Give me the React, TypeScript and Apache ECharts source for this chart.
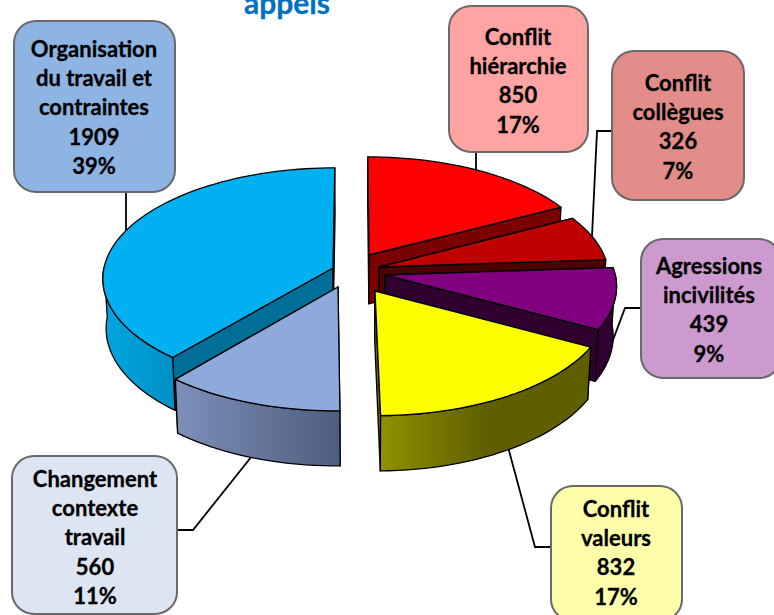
import React, { useEffect, useRef } from "react";
import * as echarts from "echarts";

const categories = [
  ["Organisation", "du travail et", "contraintes"],
  ["Conflit", "hiérarchie"],
  ["Conflit", "collègues"],
  ["Agressions", "incivilités"],
  ["Conflit", "valeurs"],
  ["Changement", "contexte", "travail"],
];
const values = [1909, 850, 326, 439, 832, 560];
const percents = ["39%", "17%", "7%", "9%", "17%", "11%"];
const title = "appels";

const topColors = ["#00B0F0", "#FF0000", "#C00000", "#800080", "#FFFF00", "#8EA9DB"];
const sideColors: any[] = [
  ["#00A6E2", "#0090C4"],
  ["#7A0000", "#7A0000"],
  ["#4D0000", "#4D0000"],
  ["#300030", "#300030"],
  ["#909000", "#5F5F00"],
  ["#7D90BA", "#4E5D7E"],
];
const radialColors = ["#006F98", "#7A0000", "#4D0000", "#300030", "#6B6B00", "#5A6A8C"];
const apexes = [
  [333, 268],
  [369, 255],
  [379, 267],
  [385, 275],
  [375, 291],
  [338, 287],
];
const boxes = [
  { x: 14, y: 21, w: 161, h: 171, fill: "#8DB4E2", cx: 94, first: 48 },
  { x: 449, y: 6, w: 139, h: 146, fill: "#FFA3A3", cx: 518, first: 36 },
  { x: 612, y: 51, w: 132, h: 149, fill: "#E28D89", cx: 678, first: 82 },
  { x: 641, y: 239, w: 140, h: 139, fill: "#CC9ACF", cx: 709, first: 265 },
  { x: 551, y: 486, w: 131, h: 135, fill: "#FFFFAB", cx: 616, first: 508 },
  { x: 12, y: 456, w: 165, h: 158, fill: "#DDE4F2", cx: 95, first: 478 },
];
const leaders = [
  [[126, 192], [126, 232]],
  [[476, 152], [476, 175]],
  [[612, 131], [597, 131], [592, 236]],
  [[641, 308], [625, 308], [610, 348]],
  [[551, 547], [535, 547], [508, 447]],
  [[177, 530], [193, 530], [252, 456]],
];

const X0 = 355, Y0 = 273, RX = 230, RY = 110, K = 0.09, DEPTH = 49.5, SHRINK = 0.987;
const FONT = "Lato, Carlito, 'Open Sans', sans-serif";
const LINE_H = 29.4;
const total = values.reduce((a, b) => a + b, 0);

const persp = (q: number) => 1 / (1 - K * q);
const project = (p: number, q: number) => [X0 + RX * p * persp(q), Y0 + RY * q * persp(q)];
const lower = (pt: number[], q: number) => [X0 + (pt[0] - X0) * SHRINK, pt[1] + DEPTH * persp(q)];
const unproject = (x: number, y: number) => {
  const d = y - Y0;
  const q = d / (RY + K * d);
  return [((x - X0) * (1 - K * q)) / RX, q];
};

function renderSlice(params: any, api: any) {
  const i = params.dataIndex;
  const before = values.slice(0, i).reduce((a, b) => a + b, 0);
  const a0 = ((before - values[0]) / total) * Math.PI * 2;
  const a1 = a0 + (api.value(0) / total) * Math.PI * 2;
  const [ap, aq] = unproject(apexes[i][0], apexes[i][1]);
  const apexTop = project(ap, aq);
  const apexBot = lower(apexTop, aq);
  const steps = Math.max(6, Math.round(((a1 - a0) * 180) / Math.PI / 2));
  const rimTop: number[][] = [];
  const rimBot: number[][] = [];
  const frontTop: number[][] = [];
  const frontBot: number[][] = [];
  for (let s = 0; s <= steps; s++) {
    const t = a0 + ((a1 - a0) * s) / steps;
    const q = aq - Math.cos(t);
    const pt = project(ap + Math.sin(t), q);
    const low = lower(pt, q);
    rimTop.push(pt);
    rimBot.push(low);
    if (Math.cos(t) <= 0.02) {
      frontTop.push(pt);
      frontBot.push(low);
    }
  }
  const line = { stroke: "#000", lineWidth: 1.3, lineJoin: "round" };
  const poly = (points: number[][], fill: any) => ({
    type: "polygon",
    shape: { points },
    style: { fill, ...line },
    silent: true,
  });
  const radial = radialColors[i];
  const grad = {
    type: "linear", x: 0, y: 0, x2: 1, y2: 0,
    colorStops: [
      { offset: 0, color: sideColors[i][0] },
      { offset: i === 4 ? 0.5 : 1, color: sideColors[i][1] },
      { offset: 1, color: sideColors[i][1] },
    ],
  };
  const children: any[] = [
    poly([apexTop, rimTop[0], rimBot[0], apexBot], radial),
    poly([apexTop, rimTop[steps], rimBot[steps], apexBot], radial),
  ];
  if (frontTop.length > 1) children.push(poly([...frontTop, ...frontBot.slice().reverse()], grad));
  children.push(poly([apexTop, ...rimTop], topColors[i]));
  return { type: "group", children };
}

export default function App() {
  const ref = useRef<HTMLDivElement>(null);
  useEffect(() => {
    const chart = echarts.init(ref.current!, undefined, { renderer: "svg" });
    const elements: any[] = [];
    leaders.forEach((pts) => {
      elements.push({
        type: "polyline", shape: { points: pts }, z: 1, silent: true,
        style: { stroke: "#000", lineWidth: 1.8, fill: "none" },
      });
    });
    boxes.forEach((b, i) => {
      elements.push({
        type: "rect", z: 5, silent: true,
        shape: { x: b.x, y: b.y, width: b.w, height: b.h, r: 22 },
        style: { fill: b.fill, stroke: "#6A6A6A", lineWidth: 2 },
      });
      const lines = [...categories[i], String(values[i]), percents[i]];
      lines.forEach((t, j) => {
        elements.push({
          type: "text", z: 6, silent: true, x: b.cx, y: b.first + j * LINE_H,
          style: {
            text: t, fill: "#000", stroke: "#000", lineWidth: 0.3,
            font: `bold 22px ${FONT}`, align: "center", verticalAlign: "middle",
          },
        });
      });
    });
    elements.push({
      type: "text", z: 6, silent: true, x: 287, y: 2,
      style: {
        text: title, fill: "#0070C0", stroke: "#0070C0", lineWidth: 0.3,
        font: `bold 30px ${FONT}`, align: "center", verticalAlign: "middle",
      },
    });
    chart.setOption({
      animation: false,
      backgroundColor: "#fff",
      graphic: { elements },
      series: [
        {
          type: "custom",
          coordinateSystem: "none",
          renderItem: renderSlice,
          data: values.map((v) => [v]),
          silent: true,
          z: 3,
        },
      ],
    });
    return () => chart.dispose();
  }, []);
  return <div ref={ref} style={{ position: "fixed", left: 0, top: 0, width: 774, height: 615 }} />;
}
